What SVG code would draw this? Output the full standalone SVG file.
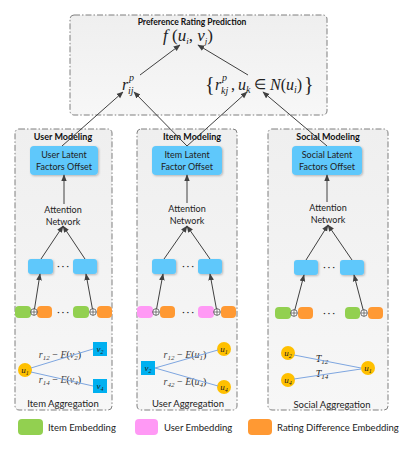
<svg xmlns="http://www.w3.org/2000/svg" width="416" height="451" viewBox="0 0 416 451">
<defs>
<linearGradient id="pg" x1="0" y1="0" x2="0" y2="1"><stop offset="0" stop-color="#efefef"/><stop offset="1" stop-color="#f7f7f7"/></linearGradient>
<marker id="ah" viewBox="0 0 10 10" refX="9" refY="5" markerWidth="7" markerHeight="7" orient="auto-start-reverse" markerUnits="userSpaceOnUse"><path d="M0,1 L10,5 L0,9 z" fill="#404040"/></marker>
<filter id="sh" x="-20%" y="-20%" width="150%" height="150%"><feDropShadow dx="1" dy="1" stdDeviation="0.8" flood-color="#000" flood-opacity="0.25"/></filter>
</defs>
<style>
.panel{fill:url(#pg);stroke:#7f7f7f;stroke-width:1;stroke-dasharray:6 2 1.5 2}
.big{fill:#5fc8fb;filter:url(#sh)}
.sm{fill:#5fc8fb;filter:url(#sh)}
.g{fill:#92d050}.p{fill:#ff99f5}.o{fill:#ff9933}
.t{font-family:Lato,"Liberation Sans",sans-serif;fill:#222}
.tb{font-family:Lato,"Liberation Sans",sans-serif;font-weight:bold;fill:#111}
.m{font-family:"Liberation Serif",serif;font-style:italic;fill:#222}
.mr{font-family:"Liberation Serif",serif;font-style:normal;fill:#222}
.c{stroke:#404040;stroke-width:1;fill:none;marker-end:url(#ah)}
.bl{stroke:#7ea6e0;stroke-width:1;fill:none}
.op{fill:#fff;stroke:#333;stroke-width:0.7}
.yc{fill:#ffc000}
.bq{fill:#00b0f0}
.lab{font-family:"Liberation Serif",serif;font-style:italic;fill:#444}
</style>

<g id="prediction">
<rect class="panel" x="70" y="15" width="257" height="100" rx="4"/>
<text class="tb" x="192" y="25" font-size="8.5" text-anchor="middle">Preference Rating Prediction</text>
<text class="m" x="188" y="41" font-size="17" text-anchor="middle">f<tspan class="mr"> (</tspan>u<tspan font-size="9" dy="3">i</tspan><tspan class="mr" dy="-3">, </tspan>v<tspan font-size="9" dy="3">j</tspan><tspan class="mr" dy="-3">)</tspan></text>
<text class="m" x="122" y="90" font-size="16">r</text>
<text class="m" x="129" y="81" font-size="10">p</text>
<text class="m" x="128" y="94" font-size="10">ij</text>
<text class="mr" x="205" y="91" font-size="20">{</text>
<text class="m" x="215" y="90" font-size="16">r</text>
<text class="m" x="222" y="81" font-size="10">p</text>
<text class="m" x="221" y="94" font-size="10">kj</text>
<text class="mr" x="231" y="90" font-size="16">,</text>
<text class="m" x="238" y="90" font-size="16">u</text>
<text class="m" x="246" y="93" font-size="10">k</text>
<text class="mr" x="254" y="89" font-size="14">∈</text>
<text class="m" x="270" y="90" font-size="16">N<tspan class="mr">(</tspan>u<tspan font-size="10" dy="3">i</tspan><tspan class="mr" dy="-3">)</tspan></text>
<text class="mr" x="304" y="91" font-size="20">}</text>
</g>

<g id="user-modeling">
<rect class="panel" x="15" y="129" width="97" height="281" rx="4"/>
<text class="tb" x="63" y="140" font-size="9" text-anchor="middle">User Modeling</text>
<rect class="big" x="30" y="146" width="68" height="29" rx="4"/>
<text class="t" x="64" y="158" font-size="9" text-anchor="middle">User Latent</text>
<text class="t" x="64" y="170" font-size="9" text-anchor="middle">Factors Offset</text>
<text class="t" x="63" y="213" font-size="9" text-anchor="middle">Attention</text>
<text class="t" x="63" y="225" font-size="9" text-anchor="middle">Network</text>
<rect class="sm" x="28" y="259" width="25" height="15" rx="3"/>
<rect class="sm" x="73" y="259" width="24" height="15" rx="3"/>
<text class="t" x="63" y="269" font-size="9" text-anchor="middle">· · ·</text>
<rect class="g" x="15" y="306" width="16" height="12" rx="4"/>
<rect class="o" x="37" y="306" width="15" height="12" rx="4"/>
<rect class="g" x="73" y="306" width="16" height="12" rx="4"/>
<rect class="o" x="97" y="306" width="15" height="12" rx="4"/>
<text class="t" x="63" y="315" font-size="9" text-anchor="middle">· · ·</text>
</g>

<g id="item-aggregation">
<circle class="yc" cx="25" cy="370" r="7"/>
<text class="m" x="25" y="373" font-size="9" text-anchor="middle">u<tspan font-size="6" dy="1.5">1</tspan></text>
<rect class="bq" x="93" y="342" width="14" height="14"/>
<text class="m" x="100" y="352" font-size="9" text-anchor="middle">v<tspan font-size="6" dy="1.5">2</tspan></text>
<rect class="bq" x="93" y="379" width="14" height="14"/>
<text class="m" x="100" y="389" font-size="9" text-anchor="middle">v<tspan font-size="6" dy="1.5">4</tspan></text>
<text class="lab" x="60" y="358" font-size="10" text-anchor="middle">r<tspan font-size="7" dy="2">12</tspan><tspan class="mr" dy="-2"> − </tspan>E<tspan class="mr">(</tspan>v<tspan font-size="7" dy="2">2</tspan><tspan class="mr" dy="-2">)</tspan></text>
<text class="lab" x="60" y="383" font-size="10" text-anchor="middle">r<tspan font-size="7" dy="2">14</tspan><tspan class="mr" dy="-2"> − </tspan>E<tspan class="mr">(</tspan>v<tspan font-size="7" dy="2">4</tspan><tspan class="mr" dy="-2">)</tspan></text>
<text class="t" x="63" y="407" font-size="9.5" text-anchor="middle">Item Aggregation</text>
</g>

<g id="item-modeling">
<rect class="panel" x="137" y="129" width="100" height="281" rx="4"/>
<text class="tb" x="192" y="140" font-size="9" text-anchor="middle">Item Modeling</text>
<rect class="big" x="152" y="146" width="70" height="29" rx="4"/>
<text class="t" x="187" y="158" font-size="9" text-anchor="middle">Item Latent</text>
<text class="t" x="187" y="170" font-size="9" text-anchor="middle">Factor Offset</text>
<text class="t" x="187" y="212" font-size="9" text-anchor="middle">Attention</text>
<text class="t" x="187" y="224" font-size="9" text-anchor="middle">Network</text>
<rect class="sm" x="152" y="259" width="24" height="15" rx="3"/>
<rect class="sm" x="198" y="259" width="24" height="15" rx="3"/>
<text class="t" x="188" y="269" font-size="9" text-anchor="middle">· · ·</text>
<rect class="p" x="137" y="306" width="16" height="12" rx="4"/>
<rect class="o" x="160" y="306" width="15" height="12" rx="4"/>
<rect class="p" x="198" y="306" width="16" height="12" rx="4"/>
<rect class="o" x="221" y="306" width="15" height="12" rx="4"/>
<text class="t" x="188" y="315" font-size="9" text-anchor="middle">· · ·</text>
</g>

<g id="user-aggregation">
<rect class="bq" x="141" y="361" width="14" height="14"/>
<text class="m" x="148" y="371" font-size="9" text-anchor="middle">v<tspan font-size="6" dy="1.5">2</tspan></text>
<circle class="yc" cx="224" cy="349" r="7"/>
<text class="m" x="224" y="352" font-size="9" text-anchor="middle">u<tspan font-size="6" dy="1.5">1</tspan></text>
<circle class="yc" cx="224" cy="387" r="7"/>
<text class="m" x="224" y="390" font-size="9" text-anchor="middle">u<tspan font-size="6" dy="1.5">4</tspan></text>
<text class="lab" x="185" y="358" font-size="10" text-anchor="middle">r<tspan font-size="7" dy="2">12</tspan><tspan class="mr" dy="-2"> − </tspan>E<tspan class="mr">(</tspan>u<tspan font-size="7" dy="2">1</tspan><tspan class="mr" dy="-2">)</tspan></text>
<text class="lab" x="185" y="385" font-size="10" text-anchor="middle">r<tspan font-size="7" dy="2">42</tspan><tspan class="mr" dy="-2"> − </tspan>E<tspan class="mr">(</tspan>u<tspan font-size="7" dy="2">4</tspan><tspan class="mr" dy="-2">)</tspan></text>
<text class="t" x="188" y="407" font-size="9.5" text-anchor="middle">User Aggregation</text>
</g>

<g id="social-modeling">
<rect class="panel" x="268" y="129" width="120" height="281" rx="4"/>
<text class="tb" x="328" y="140" font-size="9" text-anchor="middle">Social Modeling</text>
<rect class="big" x="292" y="146" width="70" height="29" rx="4"/>
<text class="t" x="327" y="158" font-size="9" text-anchor="middle">Social Latent</text>
<text class="t" x="327" y="170" font-size="9" text-anchor="middle">Factors Offset</text>
<text class="t" x="328" y="211" font-size="9" text-anchor="middle">Attention</text>
<text class="t" x="328" y="223" font-size="9" text-anchor="middle">Network</text>
<rect class="sm" x="294" y="260" width="24" height="15" rx="3"/>
<rect class="sm" x="340" y="260" width="24" height="15" rx="3"/>
<text class="t" x="329" y="270" font-size="9" text-anchor="middle">· · ·</text>
<rect class="g" x="275" y="307" width="16" height="12" rx="4"/>
<rect class="o" x="298" y="307" width="15" height="12" rx="4"/>
<rect class="g" x="345" y="307" width="15" height="12" rx="4"/>
<rect class="o" x="368" y="307" width="15" height="12" rx="4"/>
<text class="t" x="329" y="316" font-size="9" text-anchor="middle">· · ·</text>
</g>

<g id="social-aggregation">
<circle class="yc" cx="288" cy="353" r="7"/>
<text class="m" x="288" y="356" font-size="9" text-anchor="middle">u<tspan font-size="6" dy="1.5">2</tspan></text>
<circle class="yc" cx="288" cy="380" r="7"/>
<text class="m" x="288" y="383" font-size="9" text-anchor="middle">u<tspan font-size="6" dy="1.5">4</tspan></text>
<circle class="yc" cx="368" cy="368" r="7"/>
<text class="m" x="368" y="371" font-size="9" text-anchor="middle">u<tspan font-size="6" dy="1.5">1</tspan></text>
<text class="m" x="322" y="362" font-size="10" text-anchor="middle">T<tspan font-size="7" dy="2">12</tspan></text>
<text class="m" x="322" y="377" font-size="10" text-anchor="middle">T<tspan font-size="7" dy="2">14</tspan></text>
<text class="t" x="332" y="408" font-size="9.5" text-anchor="middle">Social Aggregation</text>
</g>

<g id="connectors">
<line class="c" x1="140" y1="75" x2="180" y2="45"/>
<line class="c" x1="248" y1="75" x2="198" y2="45"/>
<line class="c" x1="62" y1="146" x2="123" y2="92"/>
<line class="c" x1="187" y1="146" x2="134" y2="92"/>
<line class="c" x1="187" y1="146" x2="247" y2="92"/>
<line class="c" x1="327" y1="146" x2="263" y2="92"/>
<line class="c" x1="64" y1="204" x2="64" y2="175"/>
<line class="c" x1="187" y1="203" x2="187" y2="175"/>
<line class="c" x1="327" y1="202" x2="327" y2="175"/>
<line class="c" x1="41" y1="259" x2="63" y2="226"/>
<line class="c" x1="85" y1="259" x2="63" y2="226"/>
<line class="c" x1="164" y1="259" x2="187" y2="226"/>
<line class="c" x1="210" y1="259" x2="187" y2="226"/>
<line class="c" x1="306" y1="260" x2="328" y2="225"/>
<line class="c" x1="352" y1="260" x2="328" y2="225"/>
<line class="c" x1="34" y1="312" x2="40" y2="274"/>
<line class="c" x1="93" y1="312" x2="86" y2="274"/>
<line class="c" x1="156" y1="312" x2="163" y2="274"/>
<line class="c" x1="217" y1="312" x2="210" y2="274"/>
<line class="c" x1="294" y1="313" x2="304" y2="275"/>
<line class="c" x1="364" y1="313" x2="354" y2="275"/>
<circle class="op" cx="34" cy="312" r="3.3"/><path d="M30.7,312h6.6M34,308.7v6.6" stroke="#333" stroke-width="0.6"/>
<circle class="op" cx="93" cy="312" r="3.3"/><path d="M89.7,312h6.6M93,308.7v6.6" stroke="#333" stroke-width="0.6"/>
<circle class="op" cx="156" cy="312" r="3.3"/><path d="M152.7,312h6.6M156,308.7v6.6" stroke="#333" stroke-width="0.6"/>
<circle class="op" cx="217" cy="312" r="3.3"/><path d="M213.7,312h6.6M217,308.7v6.6" stroke="#333" stroke-width="0.6"/>
<circle class="op" cx="294" cy="313" r="3.3"/><path d="M290.7,313h6.6M294,309.7v6.6" stroke="#333" stroke-width="0.6"/>
<circle class="op" cx="364" cy="313" r="3.3"/><path d="M360.7,313h6.6M364,309.7v6.6" stroke="#333" stroke-width="0.6"/>
<line class="bl" x1="31" y1="368" x2="93" y2="349"/>
<line class="bl" x1="31" y1="372" x2="93" y2="386"/>
<line class="bl" x1="155" y1="368" x2="218" y2="350"/>
<line class="bl" x1="155" y1="368" x2="218" y2="386"/>
<line class="bl" x1="294" y1="355" x2="361" y2="368"/>
<line class="bl" x1="294" y1="379" x2="361" y2="369"/>
</g>

<g id="legend">
<rect class="g" x="18" y="419" width="25" height="16" rx="4"/>
<text class="t" x="48" y="431" font-size="9.5">Item Embedding</text>
<rect class="p" x="135" y="419" width="23" height="16" rx="4"/>
<text class="t" x="164" y="431" font-size="9.5">User Embedding</text>
<rect class="o" x="248" y="419" width="24" height="16" rx="4"/>
<text class="t" x="277" y="431" font-size="9.5">Rating Difference Embedding</text>
</g>
</svg>
